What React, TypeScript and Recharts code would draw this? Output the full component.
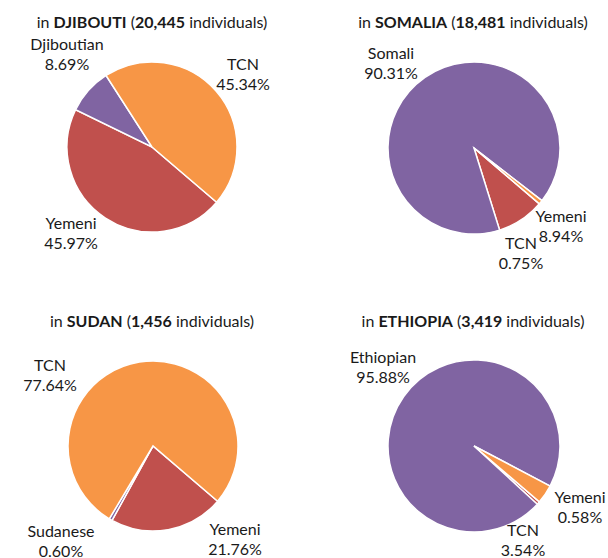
import { PieChart, Pie, Cell } from "recharts";

// shares in %, one entry per country
const countries = ["DJIBOUTI", "SOMALIA", "SUDAN", "ETHIOPIA"];
const totals = ["20,445", "18,481", "1,456", "3,419"];
const nationalNames = ["Djiboutian", "Somali", "Sudanese", "Ethiopian"];
const yemeniShare = [45.97, 8.94, 21.76, 0.58];
const nationalShare = [8.69, 90.31, 0.6, 95.88];
const tcnShare = [45.34, 0.75, 77.64, 3.54];

const COLORS = { yemeni: "#C0504D", national: "#8064A2", tcn: "#F79646" };
const FONT = "Lato, 'Open Sans', sans-serif";

// layout per panel: pie centre, radius, title centre, label offsets from centre
const panels = [
  { cx: 152, cy: 147, r: 85, titleX: 152, titleY: 22, labels: { yemeni: [-81, 75], national: [-85, -104], tcn: [91, -84] } },
  { cx: 170, cy: 148, r: 86, titleX: 169, titleY: 22, labels: { yemeni: [87, 67], national: [-83, -96], tcn: [47, 94] } },
  { cx: 153, cy: 167, r: 85, titleX: 152, titleY: 42, labels: { yemeni: [82, 82], national: [-92, 84], tcn: [-103, -82] } },
  { cx: 170, cy: 167, r: 86, titleX: 169, titleY: 42, labels: { yemeni: [106, 50], national: [-91, -90], tcn: [49, 83] } },
];

function CountryPie({ i }: { i: number }) {
  const p = panels[i];
  const data = [
    { key: "yemeni", name: "Yemeni", value: yemeniShare[i] },
    { key: "national", name: nationalNames[i], value: nationalShare[i] },
    { key: "tcn", name: "TCN", value: tcnShare[i] },
  ];

  const renderLabel = (props: any) => {
    const d = data[props.index];
    const [dx, dy] = (p.labels as any)[d.key];
    const x = props.cx + dx;
    const y = props.cy + dy;
    return (
      <text x={x} y={y} textAnchor="middle" fontSize={16} fill="#1a1a1a" fontFamily={FONT} dominantBaseline="central">
        <tspan x={x} y={y}>{d.name}</tspan>
        <tspan x={x} y={y + 20}>{d.value.toFixed(2)}%</tspan>
      </text>
    );
  };

  return (
    <div style={{ position: "relative", width: 304, height: 279 }}>
      <div
        style={{
          position: "absolute",
          left: p.titleX - 150,
          top: p.titleY - 11,
          width: 300,
          textAlign: "center",
          fontFamily: FONT,
          fontSize: 16,
          lineHeight: "22px",
          color: "#1a1a1a",
          whiteSpace: "nowrap",
        }}
      >
        in <b>{countries[i]}</b> (<b>{totals[i]}</b> individuals)
      </div>
      <PieChart
        width={304}
        height={279}
        margin={{ top: 0, right: 0, bottom: 0, left: 0 }}
        style={{ position: "absolute", left: 0, top: 0 }}
      >
        <Pie
          data={data}
          dataKey="value"
          cx={p.cx}
          cy={p.cy}
          outerRadius={p.r}
          startAngle={-40.5}
          endAngle={-400.5}
          stroke="#ffffff"
          strokeWidth={1.5}
          labelLine={false}
          label={renderLabel}
          isAnimationActive={false}
        >
          {data.map((d) => (
            <Cell key={d.key} fill={(COLORS as any)[d.key]} />
          ))}
        </Pie>
      </PieChart>
    </div>
  );
}

export default function App() {
  return (
    <div
      style={{
        position: "absolute",
        left: 0,
        top: 0,
        width: 608,
        height: 558,
        background: "#ffffff",
        display: "grid",
        gridTemplateColumns: "304px 304px",
        gridTemplateRows: "279px 279px",
        overflow: "hidden",
      }}
    >
      {countries.map((_, i) => (
        <CountryPie key={i} i={i} />
      ))}
    </div>
  );
}
